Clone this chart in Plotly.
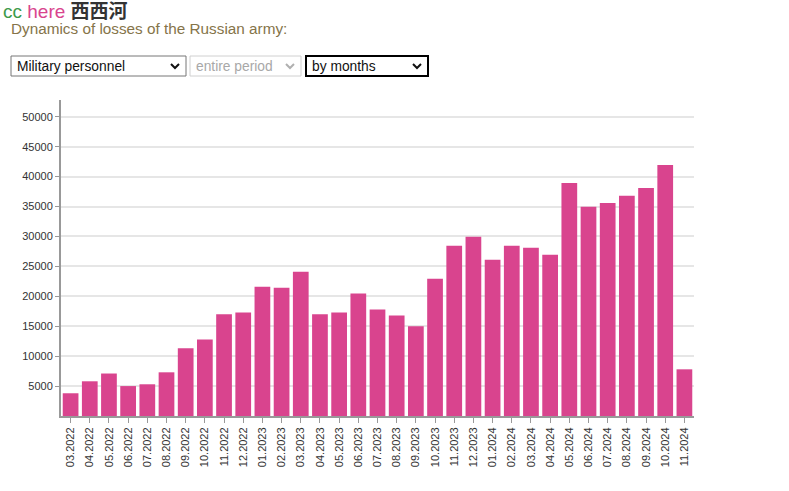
import plotly.graph_objects as go

months = ["03.2022","04.2022","05.2022","06.2022","07.2022","08.2022","09.2022","10.2022","11.2022","12.2022",
          "01.2023","02.2023","03.2023","04.2023","05.2023","06.2023","07.2023","08.2023","09.2023","10.2023",
          "11.2023","12.2023","01.2024","02.2024","03.2024","04.2024","05.2024","06.2024","07.2024","08.2024",
          "09.2024","10.2024","11.2024"]
losses = [3800, 5800, 7100, 5000, 5300, 7300, 11300, 12800, 17000, 17300,
          21600, 21450, 24100, 17000, 17300, 20450, 17800, 16800, 15000, 22950,
          28450, 29950, 26100, 28450, 28100, 26950, 38950, 34950, 35600, 36800,
          38100, 41950, 7800]
ytick_vals = [5000, 10000, 15000, 20000, 25000, 30000, 35000, 40000, 45000, 50000]

W, H = 789, 490
L, R, T, B = 61, 694, 100, 416
BAR = "#d9448e"

def px(x):
    return (x - L) / (R - L)

def py(y):
    return (B - y) / (B - T)

fig = go.Figure(go.Bar(x=months, y=losses, marker=dict(color=BAR, line=dict(width=0)),
                       hoverinfo="x+y"))

shapes = []
annotations = []

def select_box(x0, x1, y0, y1, text, border, bw, tcolor, chev_color):
    shapes.append(dict(type="rect", xref="paper", yref="paper",
                       x0=px(x0), x1=px(x1), y0=py(y1), y1=py(y0),
                       line=dict(color=border, width=bw), fillcolor="white", layer="above"))
    annotations.append(dict(xref="paper", yref="paper", x=px(x0 + 4), y=py((y0 + y1) / 2),
                            text=text, showarrow=False, xanchor="left", yanchor="middle",
                            font=dict(family="Arial, Liberation Sans", size=13.8, color=tcolor)))
    cx = x1 - 11
    cy = (y0 + y1) / 2
    path = "M {} {} L {} {} L {} {}".format(px(cx - 4), py(cy - 2), px(cx), py(cy + 2), px(cx + 4), py(cy - 2))
    shapes.append(dict(type="path", xref="paper", yref="paper", path=path,
                       line=dict(color=chev_color, width=2), layer="above"))

select_box(11, 186, 56, 76, "Military personnel", "#767676", 1, "#111111", "#111111")
select_box(190, 301, 56, 76, "entire period", "#d0d0d0", 1, "#a8a8a8", "#b0b0b0")
select_box(306, 428, 56, 76, "by months", "#000000", 2, "#111111", "#111111")

annotations.append(dict(xref="paper", yref="paper", x=px(1), y=py(11),
                        text="<span style='color:#3c9a4a'>cc</span> <span style='color:#d9448e'>here</span> <b><span style='color:#333333'>西西河</span></b>",
                        showarrow=False, xanchor="left", yanchor="middle",
                        font=dict(family="Arial, Noto Sans CJK SC", size=19, color="#333333")))
annotations.append(dict(xref="paper", yref="paper", x=px(9), y=py(29),
                        text="Dynamics of losses of the Russian army:",
                        showarrow=False, xanchor="left", yanchor="middle",
                        font=dict(family="Arial, Liberation Sans", size=15.3, color="#857449")))

fig.update_layout(
    width=W, height=H,
    margin=dict(l=L, r=W - R, t=T, b=H - B, pad=0),
    paper_bgcolor="white", plot_bgcolor="white",
    bargap=0.18,
    showlegend=False,
    shapes=shapes,
    annotations=annotations,
    xaxis=dict(type="category", range=[-0.5, len(months) - 0.5], tickangle=-90,
               showline=True, linecolor="#999999", linewidth=2,
               ticks="outside", ticklen=5, tickcolor="#999999",
               tickfont=dict(family="Arial, Liberation Sans", size=11, color="#333333"),
               showgrid=False, fixedrange=True),
    yaxis=dict(range=[0, 52800], tickvals=ytick_vals, ticktext=[str(v) for v in ytick_vals],
               showline=True, linecolor="#999999", linewidth=2,
               ticks="outside", ticklen=4, tickcolor="#999999",
               tickfont=dict(family="Arial, Liberation Sans", size=11, color="#333333"),
               showgrid=True, gridcolor="#e6e6e6", gridwidth=2,
               zeroline=False, fixedrange=True),
)

fig.write_html("out.html", config={"displayModeBar": False},
               post_script="document.body.style.margin='0';document.body.style.overflow='hidden';")
